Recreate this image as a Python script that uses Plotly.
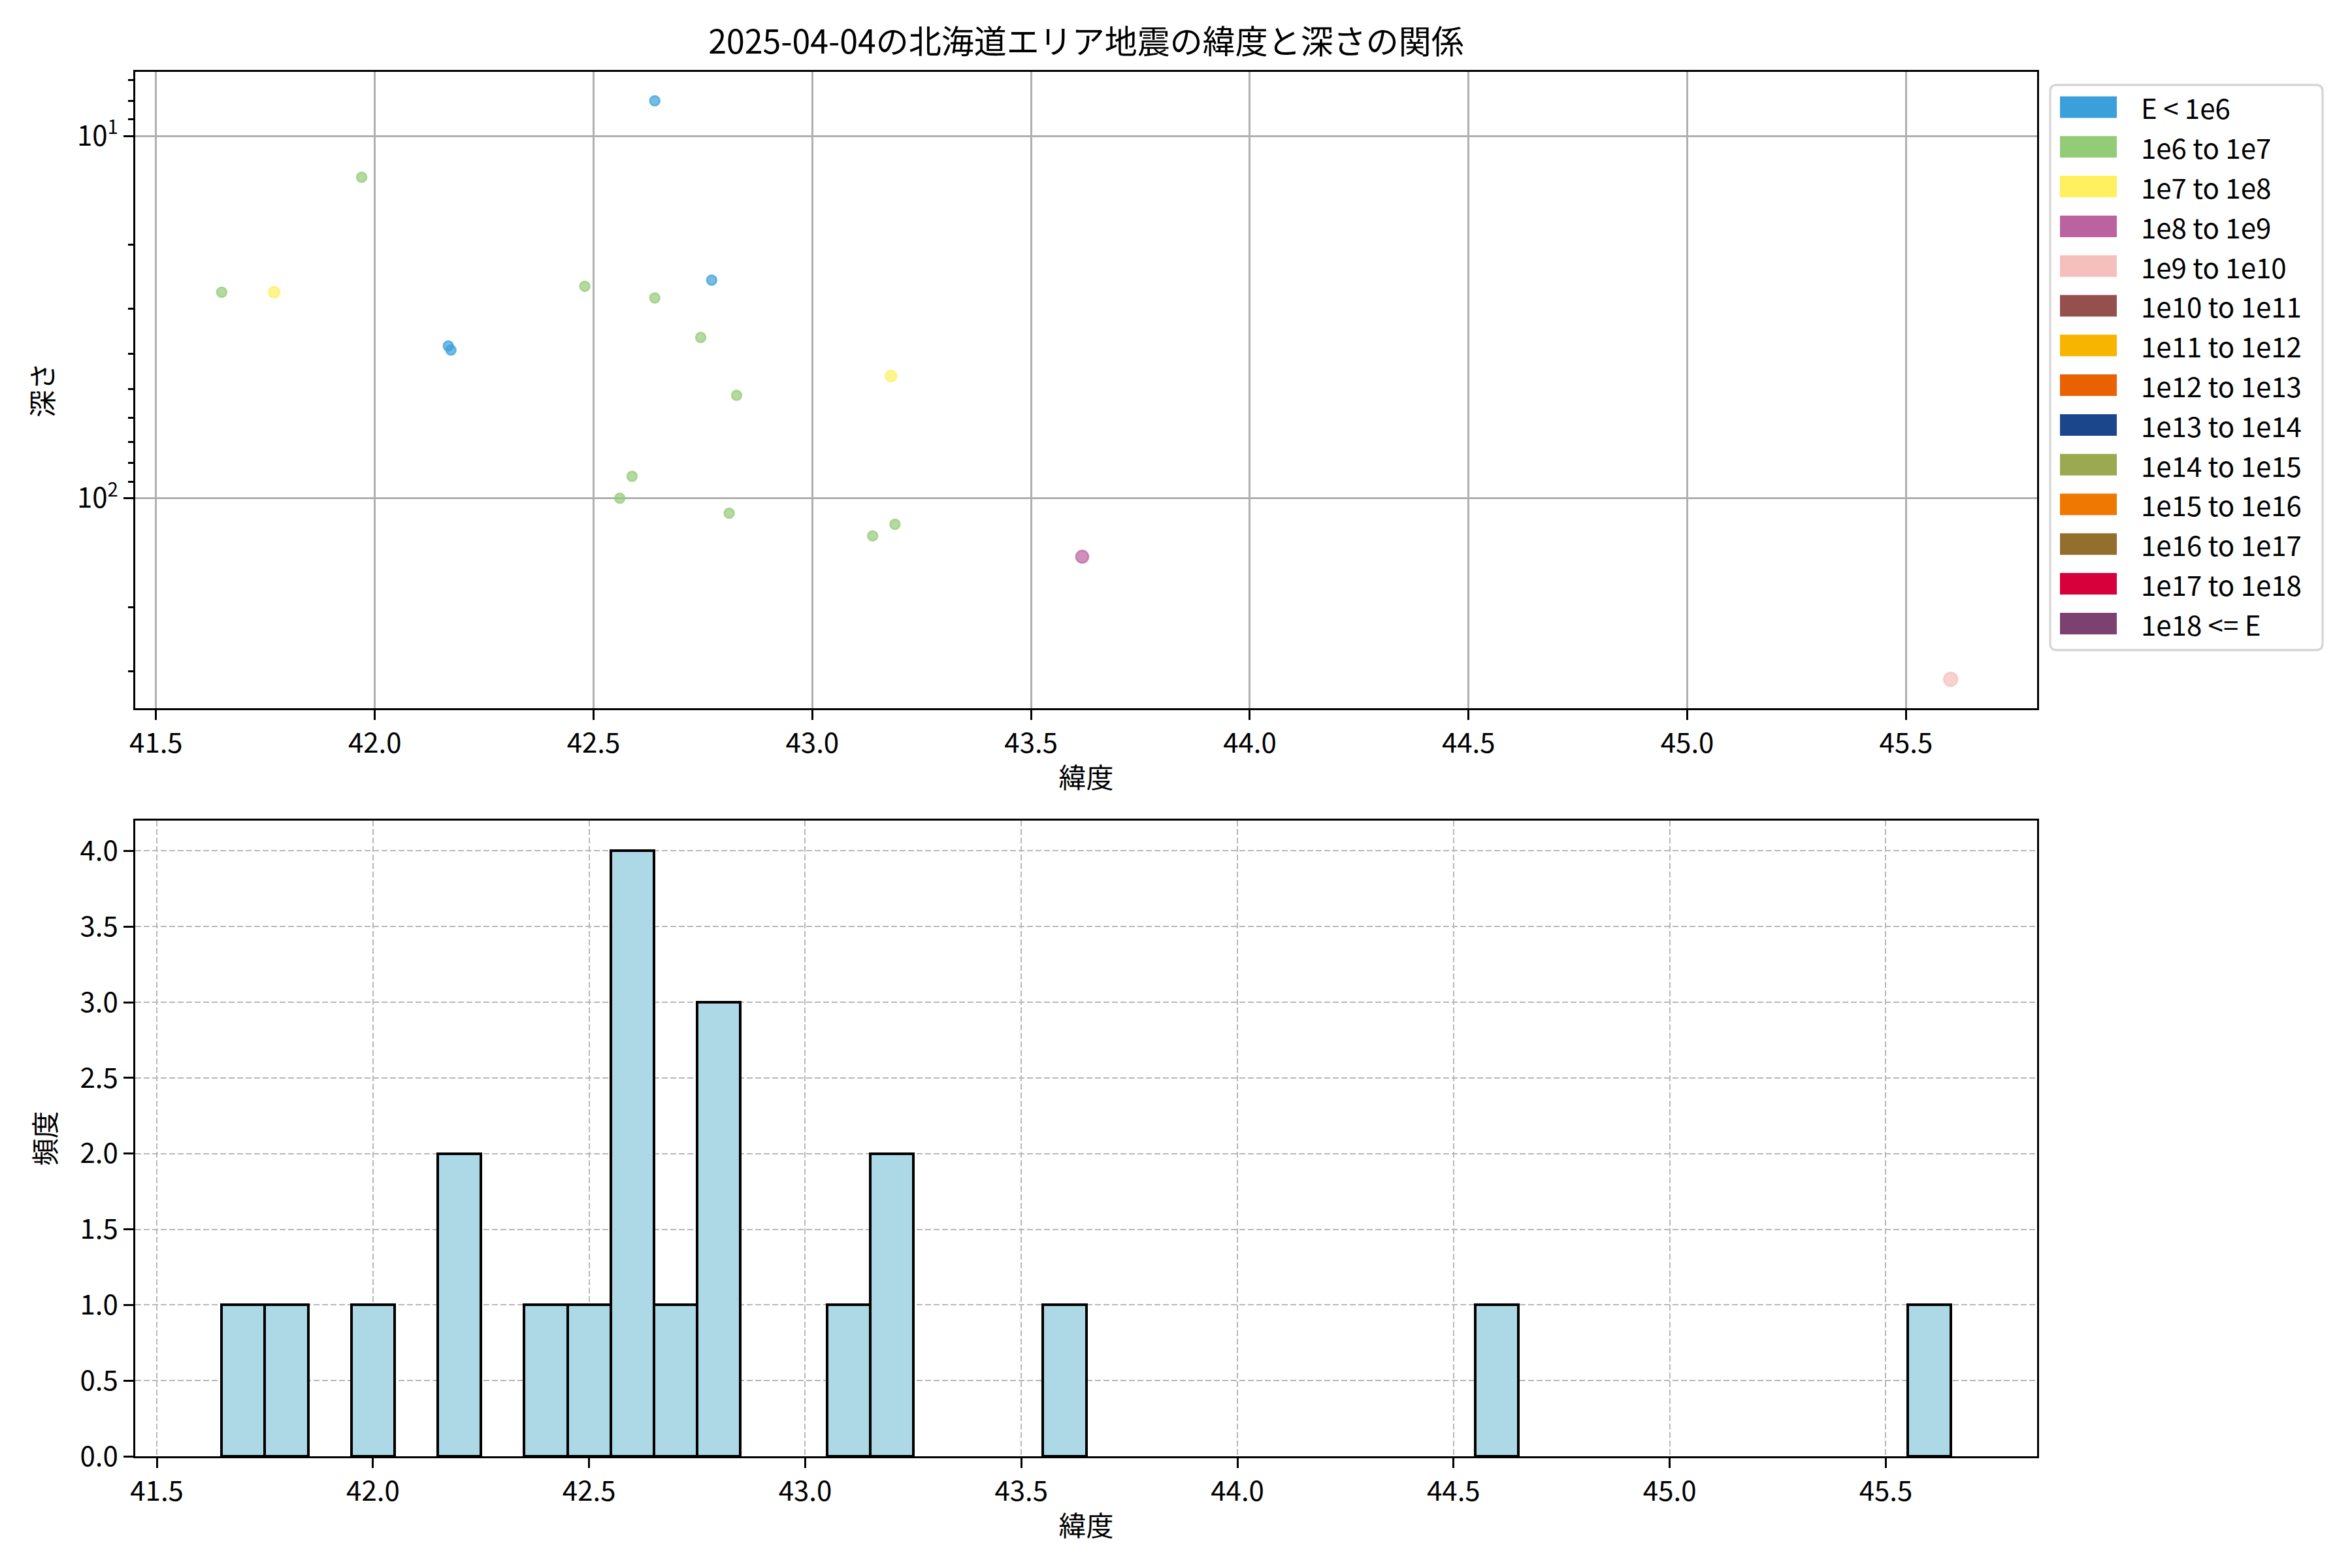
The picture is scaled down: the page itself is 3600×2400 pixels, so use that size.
import math
import plotly.graph_objects as go

# ---------------- data ----------------
title_text = "2025-04-04の北海道エリア地震の緯度と深さの関係"
energy_labels = ["E < 1e6", "1e6 to 1e7", "1e7 to 1e8", "1e8 to 1e9", "1e9 to 1e10",
                 "1e10 to 1e11", "1e11 to 1e12", "1e12 to 1e13", "1e13 to 1e14",
                 "1e14 to 1e15", "1e15 to 1e16", "1e16 to 1e17", "1e17 to 1e18", "1e18 <= E"]
energy_colors = ["#3AA0DB", "#94CB76", "#FFF060", "#BB62A0", "#F5BFBB",
                 "#95504D", "#F8B500", "#EA6104", "#1C468C",
                 "#9BAA50", "#EF7803", "#946E2D", "#D8003A", "#7C4171"]

latitude = [42.64, 41.97, 41.65, 41.77, 42.48, 42.77, 42.64, 42.745, 42.168, 42.174,
            43.18, 42.827, 42.588, 42.56, 42.81, 43.138, 43.189, 43.617, 45.602, 42.40, 44.60]
depth = [8, 13, 27, 27, 26, 25, 28, 36, 38, 39,
         46, 52, 87, 100, 110, 127, 118, 145, 316, 0, 0]
energy_class = [0, 1, 1, 2, 1, 0, 1, 1, 0, 0,
                2, 1, 1, 1, 1, 1, 1, 3, 4, 1, 1]

hist_start, hist_end, hist_size = 41.65, 45.65, 0.1

# ---------------- styles ----------------
OFF = 8                                   # page body margin offset
W_FIG, H_FIG = 3600 - OFF, 2400 - OFF
L, R, T, B = 207 - OFF, 3118 - OFF, 110 - OFF, 2229 - OFF   # plot region in px
FONT = "Noto Sans CJK JP"
TICK_FS = 42
marker_size_by_class = {0: 15, 1: 15, 2: 17, 3: 19, 4: 21}
AX_LW = 3.3


def px_x(p):
    return (p - OFF - L) / (R - L)


def px_y(p):
    return (B - (p - OFF)) / (B - T)


def rgba(hexc, a):
    h = hexc.lstrip("#")
    return "rgba(%d,%d,%d,%.3f)" % (int(h[0:2], 16), int(h[2:4], 16), int(h[4:6], 16), a)


fig = go.Figure()

# scatter (top)
for ci, lab in enumerate(energy_labels):
    xs = [la for la, d, c in zip(latitude, depth, energy_class) if c == ci and d > 0]
    ys = [d for la, d, c in zip(latitude, depth, energy_class) if c == ci and d > 0]
    if not xs:
        continue
    fig.add_trace(go.Scatter(
        x=xs, y=ys, mode="markers", name=lab, showlegend=False,
        xaxis="x", yaxis="y",
        marker=dict(size=marker_size_by_class.get(ci, 15),
                    color=rgba(energy_colors[ci], 0.7),
                    line=dict(color=rgba(energy_colors[ci], 0.7), width=2.5)),
    ))

# histogram (bottom)
fig.add_trace(go.Histogram(
    x=latitude, xaxis="x2", yaxis="y2", showlegend=False,
    xbins=dict(start=hist_start, end=hist_end, size=hist_size),
    autobinx=False,
    marker=dict(color="#ADD8E6", line=dict(color="black", width=4)),
))

# ranges (matplotlib-like 5% margins)
pos = [(la, d) for la, d in zip(latitude, depth) if d > 0]
xmin = min(p[0] for p in pos); xmax = max(p[0] for p in pos)
xpad = (xmax - xmin) * 0.05
lmin = math.log10(min(p[1] for p in pos)); lmax = math.log10(max(p[1] for p in pos))
lpad = (lmax - lmin) * 0.05
hpad = (hist_end - hist_start) * 0.05

minor_vals = [v * 10 ** e for e in range(0, 3) for v in range(2, 10)]

common_axis = dict(
    showline=True, linecolor="black", linewidth=AX_LW, mirror=True,
    ticks="outside", ticklen=14.6, tickwidth=AX_LW, tickcolor="black",
    tickfont=dict(family=FONT, size=TICK_FS, color="black"),
    zeroline=False,
)

split_top = px_y(1084)
split_bot = px_y(1256)

fig.update_layout(
    width=W_FIG, height=H_FIG,
    margin=dict(l=L, r=W_FIG - R, t=T, b=H_FIG - B),
    paper_bgcolor="white", plot_bgcolor="white",
    font=dict(family=FONT, color="black"),
    bargap=0,
    title=dict(text=title_text, x=0.5, xref="paper", y=1 - (64 - OFF) / H_FIG, yref="container",
               xanchor="center", yanchor="middle", font=dict(size=50, family=FONT, color="black")),
    xaxis=dict(common_axis, domain=[0, 1], anchor="y", range=[xmin - xpad, xmax + xpad],
               tick0=41.5, dtick=0.5, tickformat=".1f",
               showgrid=True, gridcolor="#b0b0b0", gridwidth=AX_LW,
               title=dict(text="緯度", font=dict(size=TICK_FS, family=FONT), standoff=14)),
    yaxis=dict(common_axis, domain=[split_top, 1], anchor="x", type="log",
               range=[lmax + lpad, lmin - lpad],
               tickmode="array", tickvals=[10, 100], ticktext=["10<sup>1</sup>", "10<sup>2</sup>"],
               showgrid=True, gridcolor="#b0b0b0", gridwidth=AX_LW,
               minor=dict(tickmode="array", tickvals=minor_vals, ticks="outside",
                          ticklen=8.3, tickwidth=2.5, tickcolor="black", showgrid=False),
               title=dict(text="深さ", font=dict(size=TICK_FS, family=FONT), standoff=24)),
    xaxis2=dict(common_axis, domain=[0, 1], anchor="y2", range=[hist_start - hpad, hist_end + hpad],
                tick0=41.5, dtick=0.5, tickformat=".1f",
                showgrid=True, gridcolor="#b8b8b8", gridwidth=2, griddash="9px,4px",
                title=dict(text="緯度", font=dict(size=TICK_FS, family=FONT), standoff=14)),
    yaxis2=dict(common_axis, domain=[0, split_bot], anchor="x2", range=[0, 4.2],
                tick0=0, dtick=0.5, tickformat=".1f",
                showgrid=True, gridcolor="#b8b8b8", gridwidth=2, griddash="9px,4px",
                title=dict(text="頻度", font=dict(size=TICK_FS, family=FONT), standoff=24)),
)

# ---------------- custom legend (patch style, like the reference) ----------------
box_l, box_r, box_t, box_b = 3138, 3555, 130, 995
rad = 10
x0, x1 = px_x(box_l), px_x(box_r)
y0, y1 = px_y(box_b), px_y(box_t)
rx = rad / (R - L); ry = rad / (B - T)
path = (f"M {x0+rx},{y1} L {x1-rx},{y1} Q {x1},{y1} {x1},{y1-ry} "
        f"L {x1},{y0+ry} Q {x1},{y0} {x1-rx},{y0} L {x0+rx},{y0} "
        f"Q {x0},{y0} {x0},{y0+ry} L {x0},{y1-ry} Q {x0},{y1} {x0+rx},{y1} Z")
shapes = [dict(type="path", path=path, xref="paper", yref="paper",
               line=dict(color="#d6d6d6", width=3.3), fillcolor="white", layer="above")]
annotations = []
row0, row_step = 164, 60.8
for i, (lab, col) in enumerate(zip(energy_labels, energy_colors)):
    cy = row0 + i * row_step
    shapes.append(dict(type="rect", xref="paper", yref="paper",
                       x0=px_x(3153), x1=px_x(3240), y0=px_y(cy + 16.5), y1=px_y(cy - 16.5),
                       fillcolor=col, line=dict(width=0), layer="above"))
    annotations.append(dict(text=lab, xref="paper", yref="paper", x=px_x(3275), y=px_y(cy),
                            xanchor="left", yanchor="middle", showarrow=False,
                            font=dict(family=FONT, size=TICK_FS, color="black")))
fig.update_layout(shapes=shapes, annotations=annotations)

fig.write_html("out.html")
